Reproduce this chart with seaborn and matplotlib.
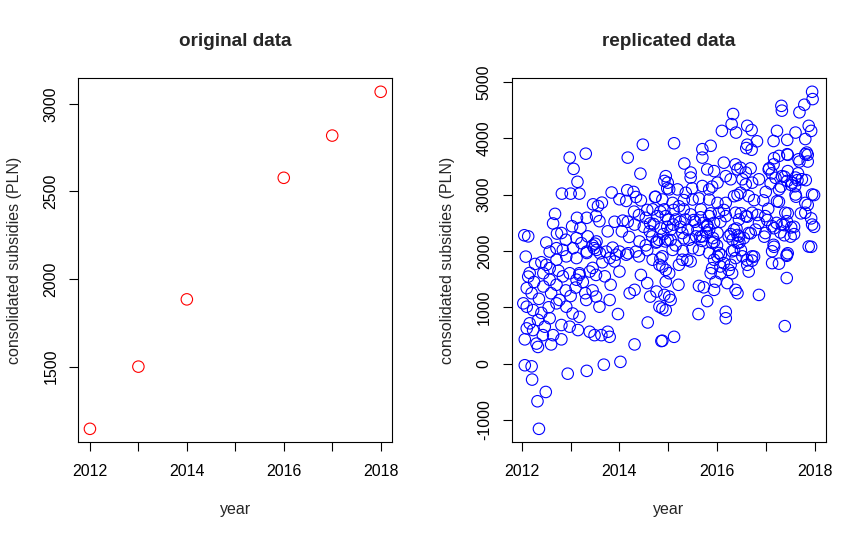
import matplotlib
matplotlib.use("Agg")
import matplotlib.pyplot as plt
import pandas as pd
import seaborn as sns

# original yearly values (2015 missing)
orig_year = [2012, 2013, 2014, 2016, 2017, 2018]
orig_subsidy = [1145, 1500, 1884, 2578, 2819, 3069]

# replicated values
rep_year = [
    # 2012-2015, upper part
    2014.48, 2013.31, 2012.98, 2014.17, 2013.06, 2014.43, 2013.14, 2012.82, 2013.00, 2013.18,
    2013.84, 2014.16, 2014.29, 2014.00, 2014.14, 2014.34, 2014.44, 2014.73, 2013.46, 2013.56,
    2013.64, 2012.68, 2012.64, 2013.13, 2013.33, 2013.03, 2013.20, 2013.52, 2013.59, 2013.90,
    2014.07, 2014.17, 2014.31, 2014.54, 2014.68, 2014.78, 2014.92, 2012.72, 2012.81, 2012.05,
    2012.13, 2013.76, 2013.35, 2013.50, 2013.53, 2013.45, 2013.12, 2013.22, 2014.41, 2014.54,
    2014.67, 2014.81, 2014.94, 2012.57, 2012.71, 2012.84, 2013.86, 2014.00, 2014.18, 2014.34,
    2013.33, 2013.48, 2013.60, 2013.73,
    # 2012-2015, lower part
    2012.08, 2012.27, 2012.50, 2012.16, 2012.13, 2012.10, 2012.03, 2012.10, 2012.23, 2012.16,
    2012.10, 2012.23, 2012.06, 2012.33, 2012.30, 2012.60, 2012.81, 2012.43, 2012.47, 2012.33,
    2012.06, 2012.20, 2012.21, 2012.49, 2012.32, 2012.35, 2012.94, 2013.33, 2013.68, 2014.02,
    2014.31, 2014.86, 2014.58, 2013.97, 2013.39, 2013.49, 2013.63, 2013.76, 2013.80, 2013.15,
    2012.98, 2012.81, 2012.57, 2012.64, 2012.71, 2012.77, 2012.91, 2013.04, 2013.18, 2012.44,
    2012.57, 2012.71, 2012.84, 2012.98, 2013.12, 2013.18, 2012.44, 2012.57, 2012.71, 2012.91,
    2013.12, 2013.33, 2013.53, 2013.18, 2013.39, 2013.52, 2013.32, 2013.52, 2013.59, 2013.80,
    2013.82, 2014.00, 2013.90, 2014.21, 2014.31, 2014.44, 2014.57, 2014.63, 2014.76, 2014.82,
    2014.95, 2015.02, 2014.40, 2014.68, 2014.82, 2014.95, 2014.14, 2013.93, 2013.80,
    # 2015-2018, upper part
    2017.95, 2017.96, 2017.79, 2017.69, 2017.32, 2017.33, 2016.33, 2016.30, 2016.39, 2016.10,
    2016.62, 2016.71, 2017.23, 2017.44, 2017.61, 2017.88, 2017.93, 2017.81, 2017.16, 2015.12,
    2015.70, 2015.87, 2015.70, 2016.62, 2016.71, 2016.82, 2016.60, 2015.33, 2015.46, 2015.46,
    2014.95, 2014.99, 2014.92, 2015.80, 2015.94, 2016.14, 2016.38, 2016.48, 2016.59, 2017.06,
    2017.16, 2017.27, 2017.44, 2017.67, 2017.81, 2017.84, 2017.33, 2017.44, 2017.54, 2017.61,
    2017.74, 2017.95, 2017.27, 2017.23, 2017.61, 2017.81, 2017.81, 2017.95, 2017.88, 2017.40,
    2017.43, 2017.33, 2016.99, 2017.13, 2016.99, 2017.16, 2017.43, 2015.02, 2015.19, 2014.88,
    2015.09, 2015.22, 2015.36, 2015.50, 2014.95, 2015.15, 2015.32, 2015.46, 2015.05, 2015.29,
    2015.43, 2015.57, 2014.99, 2015.09, 2014.88, 2015.70, 2015.84, 2016.01, 2016.18, 2016.28,
    2016.42, 2016.52, 2016.59, 2016.72, 2016.86, 2015.84, 2016.01, 2016.18, 2016.35, 2016.48,
    2016.65, 2015.67, 2015.84, 2015.94, 2015.80, 2016.04, 2016.18, 2016.38, 2016.45, 2016.59,
    2016.72, 2016.86, 2015.70, 2015.84, 2015.90, 2016.01, 2016.24, 2016.35, 2016.45, 2016.42,
    2016.55, 2016.65, 2016.79, 2015.63, 2015.84, 2016.08, 2016.31, 2016.52, 2016.72,
    # 2015-2018, lower part
    2017.13, 2017.43, 2017.13, 2017.27, 2017.43, 2016.86, 2017.39, 2016.62, 2016.72, 2016.65,
    2016.38, 2016.42, 2016.18, 2016.18, 2015.62, 2015.80, 2015.63, 2015.73, 2015.94, 2015.97,
    2015.87, 2016.07, 2016.21, 2016.24, 2016.31, 2015.94, 2016.04, 2016.14, 2016.28, 2016.38,
    2015.90, 2016.07, 2015.12, 2014.88, 2015.21, 2015.05, 2014.92, 2014.88, 2014.95,
    2015.29, 2015.46, 2014.88, 2015.02, 2015.22,
    # dense clusters
    2015.66, 2015.72, 2015.78, 2015.69, 2015.92, 2016.00, 2016.28, 2016.32, 2016.40, 2016.46,
    2017.22, 2017.30, 2017.38, 2017.52, 2017.58, 2017.12, 2017.20, 2017.45, 2017.60, 2017.66,
    2014.30, 2014.40, 2014.50, 2014.62, 2014.70, 2014.85, 2014.90, 2015.00, 2015.10, 2015.25,
    2015.35, 2015.40, 2015.55, 2015.60, 2014.75, 2015.15, 2015.30, 2015.50, 2014.20, 2014.05,
    2012.20, 2012.35, 2012.40, 2012.55, 2012.60, 2012.75, 2012.90, 2013.00, 2013.10, 2013.25,
    2013.30, 2013.45, 2013.45, 2013.65, 2013.70, 2012.25, 2012.40, 2012.50, 2012.90, 2013.05,
    2016.95, 2017.05, 2017.00, 2017.10,
    # centre of the cloud, 2014.5-2016.6
    2014.98, 2015.49, 2015.90, 2014.74, 2015.32, 2015.63, 2016.42, 2014.57, 2014.84, 2015.11,
    2015.87, 2016.14, 2016.49, 2014.63, 2014.98, 2015.25, 2015.52, 2015.80, 2016.07, 2016.42,
    2015.32, 2015.05, 2014.77, 2015.66, 2015.94, 2014.57, 2014.84, 2015.39, 2016.01, 2016.35,
    2016.62,
    # right edge, 2016.5-2018
    2017.17, 2017.45, 2017.86, 2017.86, 2017.69, 2016.69, 2017.07, 2017.38, 2017.65, 2017.82,
    2017.31, 2017.52, 2016.76, 2017.27, 2017.62, 2017.99, 2017.86, 2016.62, 2016.83, 2017.03,
    2017.45, 2017.72, 2017.93, 2017.17, 2017.38, 2017.58, 2017.99, 2016.69, 2016.97, 2017.51,
    2017.17, 2017.45, 2017.93, 2016.76, 2016.49,
]
rep_subsidy = [
    # 2012-2015, upper part
    3890, 3730, 3660, 3660, 3460, 3375, 3230, 3020, 3020, 3020,
    3040, 3080, 3050, 2920, 2890, 2960, 2900, 2960, 2830, 2800,
    2860, 2660, 2490, 2590, 2590, 2440, 2410, 2620, 2530, 2520,
    2540, 2520, 2470, 2590, 2740, 2620, 2740, 2310, 2320, 2280,
    2260, 2350, 2260, 2130, 2170, 2100, 2230, 2140, 2170, 2100,
    2260, 2200, 2170, 1990, 2050, 2020, 2060, 1990, 1960, 1990,
    1990, 2050, 1960, 1990,
    # 2012-2015, lower part
    1900, 1770, 1755, 1610, 1545, 1340, 1070, 1010, 950, 715,
    625, 595, 430, 295, 355, 340, 430, 505, 655, 775,
    -30, -50, -285, -505, -670, -1160, -180, -130, -20, 30,
    340, 400, 730, 880, 565, 505, 505, 565, 475, 595,
    655, 685, 805, 505, 1070, 1130, 1010, 890, 830, 1370,
    1490, 1400, 1550, 1605, 1490, 1575, 1605, 1695, 1845, 1905,
    1875, 1965, 2020, 1605, 1635, 1575, 1130, 1190, 1010, 1130,
    1400, 1635, 1815, 1250, 1310, 1575, 1430, 1190, 1280, 1010,
    950, 1190, 1905, 1845, 1755, 1665, 1935, 1935, 1875,
    # 2015-2018, upper part
    4830, 4700, 4600, 4465, 4580, 4495, 4435, 4255, 4105, 4135,
    4225, 4150, 4135, 3975, 4105, 4225, 4135, 3990, 3955, 3915,
    3810, 3870, 3660, 3890, 3800, 3950, 3830, 3555, 3395, 3305,
    3330, 3215, 3245, 3450, 3420, 3570, 3540, 3480, 3395, 3450,
    3540, 3690, 3720, 3630, 3720, 3750, 3330, 3245, 3215, 3305,
    3275, 3005, 3095, 2885, 3005, 2855, 2680, 2470, 2080, 2680,
    2530, 2470, 2620, 2440, 2320, 2110, 1935, 3095, 3095, 2915,
    2855, 2795, 3035, 2915, 2620, 2560, 2740, 2650, 2380, 2320,
    2200, 2260, 2200, 2020, 1905, 3155, 3095, 3215, 3330, 3275,
    3450, 3275, 3185, 3215, 3275, 2915, 2855, 2855, 2975, 3035,
    2975, 2740, 2620, 2500, 2440, 2680, 2620, 2680, 2560, 2620,
    2680, 2500, 2260, 2380, 2145, 2320, 2260, 2380, 2260, 2145,
    2230, 2320, 2380, 2020, 1965, 1935, 1995, 1905, 1905,
    # 2015-2018, lower part
    1995, 1915, 1785, 1775, 1520, 1220, 665, 1755, 1830, 1635,
    1310, 1250, 920, 805, 880, 1110, 1380, 1355, 1310, 1455,
    1605, 1605, 1430, 1665, 1605, 1845, 1965, 1785, 1755, 1875,
    1695, 1725, 475, 405, 1400, 1130, 1220, 980, 1455,
    1845, 1815, 1725, 1605, 1755,
    # dense clusters
    2600, 2500, 2330, 2180, 2230, 2100, 2300, 2200, 2400, 2150,
    2500, 2330, 2280, 2420, 2300, 3380, 3300, 3420, 3150, 3380,
    2700, 2640, 2430, 2350, 2480, 2400, 2300, 2560, 2470, 2430,
    2560, 2380, 2520, 2380, 2150, 2100, 2000, 2050, 2250, 2350,
    1250, 1150, 900, 1000, 1250, 1650, 1300, 1200, 1350, 1450,
    1250, 1300, 1700, 1800, 1550, 1450, 1800, 2150, 2200, 2050,
    2900, 2750, 3050, 3200,
    # centre of the cloud, 2014.5-2016.6
    3115, 3115, 3145, 2965, 2905, 2935, 2995, 2730, 2700, 2730,
    2670, 2730, 2670, 2490, 2430, 2520, 2550, 2460, 2520, 2285,
    2225, 2195, 2165, 2255, 2165, 2015, 1870, 1840, 1900, 2015,
    1840,
    # right edge, 2016.5-2018
    3650, 3710, 3710, 3590, 3590, 3470, 3470, 3320, 3260, 3260,
    3145, 3175, 2905, 2875, 2965, 2995, 2820, 2610, 2640, 2550,
    2670, 2670, 2580, 2405, 2460, 2430, 2430, 2315, 2255, 2255,
    2075, 1960, 2075, 1900, 2015,
]
assert len(rep_year) == len(rep_subsidy)

orig = pd.DataFrame({"year": orig_year, "subsidy": orig_subsidy})
rep = pd.DataFrame({"year": rep_year, "subsidy": rep_subsidy})

sns.set_theme(style="white")
plt.rcParams["font.family"] = ["Liberation Sans", "DejaVu Sans"]


def r_range(values):
    # R pads each axis by 4% of the data range
    lo, hi = min(values), max(values)
    pad = 0.04 * (hi - lo)
    return lo - pad, hi + pad


fig = plt.figure(figsize=(8.66, 5.4), dpi=100)
W, H = 866, 540
ax1 = fig.add_axes([78.3 / W, (H - 442.3) / H, 314 / W, 364 / H])
ax2 = fig.add_axes([511.7 / W, (H - 442.3) / H, 314 / W, 364 / H])

panels = [
    (ax1, orig, "red", "original data", [1500, 2000, 2500, 3000]),
    (ax2, rep, "blue", "replicated data", list(range(-1000, 5001, 1000))),
]

for ax, df, color, title, yticks in panels:
    sns.scatterplot(data=df, x="year", y="subsidy", ax=ax, s=68,
                    facecolor="none", edgecolor=color, linewidth=0.8,
                    legend=False)
    ax.set_xlim(r_range(df["year"]))
    ax.set_ylim(r_range(df["subsidy"]))

    ax.set_xticks(range(2012, 2019))
    ax.set_xticklabels(["2012", "", "2014", "", "2016", "", "2018"])
    ax.set_yticks(yticks)
    ax.set_yticklabels([str(t) for t in yticks])

    for sp in ax.spines.values():
        sp.set_visible(True)
        sp.set_color("black")
        sp.set_linewidth(0.8)
    ax.tick_params(axis="both", direction="out", length=6.7, width=0.8,
                   color="black", labelcolor="black", labelsize=11.5,
                   bottom=True, left=True)
    ax.tick_params(axis="x", pad=9.0)
    ax.tick_params(axis="y", pad=7.6, labelrotation=90)
    for lbl in ax.get_yticklabels():
        lbl.set_va("center")

    ax.set_title(title, fontsize=13.6, fontweight="bold", y=(442.3 - 46) / 364, pad=0)
    ax.set_xlabel("year", fontsize=11.5)
    ax.xaxis.label.set_va("baseline")
    ax.xaxis.set_label_coords(0.5, (442.3 - 514) / 364)
    ax.set_ylabel("consolidated subsidies (PLN)", fontsize=11.5)
    ax.yaxis.label.set_va("baseline")
    ax.yaxis.set_label_coords(-0.19, 0.5)

fig.savefig("out.png", dpi=100)
